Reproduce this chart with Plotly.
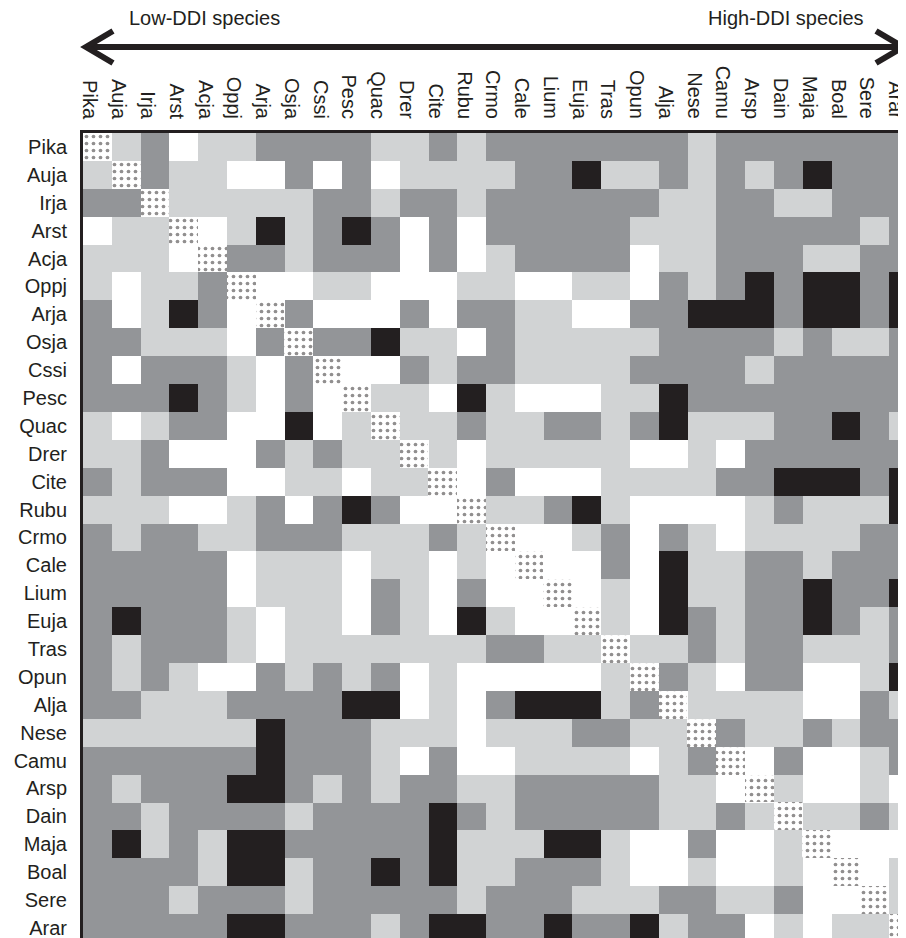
import plotly.graph_objects as go

species = ["Pika", "Auja", "Irja", "Arst", "Acja", "Oppj", "Arja", "Osja", "Cssi", "Pesc",
           "Quac", "Drer", "Cite", "Rubu", "Crmo", "Cale", "Lium", "Euja", "Tras", "Opun",
           "Alja", "Nese", "Camu", "Arsp", "Dain", "Maja", "Boal", "Sere", "Arar"]

# interaction level per species pair: 0 white, 1 light grey, 2 mid grey, 3 black; D = diagonal (self)
D = None
levels = [
    [D,1,2,0,1,1,2,2,2,2, 1,1,2,1,2,2,2,2,2,2, 2,1,2,2,2,2,2,2,2],
    [1,D,2,1,1,0,0,2,0,2, 0,1,1,1,1,2,2,3,1,1, 2,1,2,1,2,3,2,2,2],
    [2,2,D,1,1,1,1,1,2,2, 1,2,2,1,2,2,2,2,2,2, 1,1,2,2,1,1,2,2,2],
    [0,1,1,D,0,1,3,1,2,3, 2,0,2,0,2,2,2,2,2,1, 1,1,2,2,2,2,2,1,2],
    [1,1,1,0,D,2,2,1,2,2, 2,0,2,0,1,2,2,2,2,0, 1,1,2,2,2,1,1,2,2],
    [1,0,1,1,2,D,0,0,1,1, 0,0,0,1,1,0,0,1,1,0, 2,1,2,3,2,3,3,2,3],
    [2,0,1,3,2,0,D,2,0,0, 0,2,0,2,2,1,1,0,0,2, 2,3,3,3,2,3,3,2,3],
    [2,2,1,1,1,0,2,D,2,2, 3,1,1,0,2,1,1,1,1,1, 2,2,2,2,1,2,1,1,2],
    [2,0,2,2,2,1,0,2,D,0, 0,2,1,2,2,1,1,1,1,2, 2,2,2,1,2,2,2,2,2],
    [2,2,2,3,2,1,0,2,0,D, 1,1,0,3,1,0,0,0,1,1, 3,2,2,2,2,2,2,2,2],
    [1,0,1,2,2,0,0,3,0,1, D,1,1,2,1,1,2,2,1,2, 3,1,1,1,2,2,3,2,1],
    [1,1,2,0,0,0,2,1,2,1, 1,D,1,0,1,1,1,1,1,0, 0,1,0,2,2,2,2,2,2],
    [2,1,2,2,2,0,0,1,1,0, 1,1,D,0,2,0,0,0,1,1, 1,1,2,2,3,3,3,2,3],
    [1,1,1,0,0,1,2,0,2,3, 2,0,0,D,1,1,2,3,1,0, 0,0,0,1,2,1,1,1,3],
    [2,1,2,2,1,1,2,2,2,1, 1,1,2,1,D,0,0,1,2,0, 2,1,0,1,1,1,1,2,2],
    [2,2,2,2,2,0,1,1,1,0, 1,1,0,1,0,D,0,0,2,0, 3,1,1,2,2,1,2,2,2],
    [2,2,2,2,2,0,1,1,1,0, 2,1,0,2,0,0,D,0,1,0, 3,1,1,2,2,3,2,2,3],
    [2,3,2,2,2,1,0,1,1,0, 2,1,0,3,1,0,0,D,1,0, 3,2,1,2,2,3,2,1,2],
    [2,1,2,2,2,1,0,1,1,1, 1,1,1,1,2,2,1,1,D,1, 1,2,1,2,2,1,1,1,2],
    [2,1,2,1,0,0,2,1,2,1, 2,0,1,0,0,0,0,0,1,D, 2,1,0,2,2,0,0,1,3],
    [2,2,1,1,1,2,2,2,2,3, 3,0,1,0,2,3,3,3,1,2, D,1,1,1,1,0,0,2,1],
    [1,1,1,1,1,1,3,2,2,2, 1,1,1,0,1,1,1,2,2,1, 1,D,2,1,1,2,1,2,2],
    [2,2,2,2,2,2,3,2,2,2, 1,0,2,0,0,1,1,1,1,0, 1,2,D,0,2,0,0,1,2],
    [2,1,2,2,2,3,3,2,1,2, 1,2,2,1,1,2,2,2,2,2, 1,1,0,D,1,0,0,1,0],
    [2,2,1,2,2,2,2,1,2,2, 2,2,3,2,1,2,2,2,2,2, 1,1,2,1,D,1,1,2,1],
    [2,3,1,2,1,3,3,2,2,2, 2,2,3,1,1,1,3,3,1,0, 0,2,0,0,1,D,0,0,0],
    [2,2,2,2,1,3,3,1,2,2, 3,2,3,1,1,2,2,2,1,0, 0,1,0,0,1,0,D,0,1],
    [2,2,2,1,2,2,2,1,2,2, 2,2,2,1,2,2,2,1,1,1, 2,2,1,1,2,0,0,D,1],
    [2,2,2,2,2,3,3,2,2,2, 1,2,3,3,2,2,3,2,2,3, 1,2,2,0,1,0,1,1,D],
]

left_label = "Low-DDI species"
right_label = "High-DDI species"

WHITE, LIGHT, MID, DARK = "#FFFFFF", "#D1D3D4", "#939598", "#231F20"
FONT = "Liberation Sans, Arial, Helvetica, sans-serif"

n = len(species)
idx = list(range(n))

fig = go.Figure()
fig.add_trace(go.Heatmap(
    z=levels, x=idx, y=idx, zmin=0, zmax=3,
    colorscale=[[0, WHITE], [1/6, WHITE], [1/6, LIGHT], [0.5, LIGHT],
                [0.5, MID], [5/6, MID], [5/6, DARK], [1, DARK]],
    showscale=False, xgap=0, ygap=0, hoverongaps=False,
))
# dotted diagonal (self pairs)
diag = [i for i in idx if levels[i][i] is None]
fig.add_trace(go.Bar(
    x=diag, y=[1] * len(diag), base=[i - 0.5 for i in diag], width=1,
    marker=dict(color=WHITE, line=dict(width=0),
                pattern=dict(shape=".", fgcolor=DARK, bgcolor=WHITE, size=7, solidity=0.22)),
    showlegend=False, hoverinfo="skip",
))

# the page body has an 8px margin: place the figure so the grid lands at (83, 133)
OFF = 8
VIEW_W, VIEW_H = 906, 938
GX, GY = 83, 133            # grid top-left on screen
W, H = VIEW_W - OFF, VIEW_H - OFF
L, T = GX - OFF, GY - OFF
pw, ph = VIEW_W - GX, VIEW_H - GY


def px(X):
    return (X - GX) / pw


def py(Y):
    return 1 + (GY - Y) / ph


arrow_y = 47
shapes = [
    dict(type="line", xref="paper", yref="paper", x0=px(88), x1=px(900), y0=py(arrow_y), y1=py(arrow_y),
         line=dict(color=DARK, width=6)),
    dict(type="path", xref="paper", yref="paper",
         path=f"M {px(113)} {py(31)} L {px(86)} {py(arrow_y)} L {px(113)} {py(63)}",
         line=dict(color=DARK, width=6)),
    dict(type="path", xref="paper", yref="paper",
         path=f"M {px(876)} {py(31)} L {px(903)} {py(arrow_y)} L {px(876)} {py(63)}",
         line=dict(color=DARK, width=6)),
]

annotations = [
    dict(text=left_label, x=px(204), y=py(18), xref="paper", yref="paper", showarrow=False,
         font=dict(family=FONT, size=20, color=DARK), xanchor="center", yanchor="middle"),
    dict(text=right_label, x=px(786), y=py(18), xref="paper", yref="paper", showarrow=False,
         font=dict(family=FONT, size=20, color=DARK), xanchor="center", yanchor="middle"),
]

fig.update_layout(
    width=W, height=H,
    margin=dict(l=L, r=0, t=T, b=0, pad=0, autoexpand=False),
    paper_bgcolor="white", plot_bgcolor="white",
    font=dict(family=FONT, size=20, color=DARK),
    shapes=shapes, annotations=annotations,
    bargap=0, showlegend=False,
)
fig.update_xaxes(
    side="top", range=[-0.5, 28.1], tickmode="array",
    tickvals=[i - 0.26 for i in idx], ticktext=species, tickangle=90,
    showgrid=False, zeroline=False, ticks="", ticklabelstandoff=4, automargin=False,
    ticklabeloverflow="allow",
    showline=True, linecolor=DARK, linewidth=3, tickfont=dict(size=20, color=DARK),
)
fig.update_yaxes(
    range=[28.36, -0.5], tickmode="array", tickvals=idx, ticktext=species,
    showgrid=False, zeroline=False, ticks="", ticklabelstandoff=9, automargin=False,
    ticklabeloverflow="allow",
    showline=True, linecolor=DARK, linewidth=3, tickfont=dict(size=20, color=DARK),
)

fig.write_html("out.html")
